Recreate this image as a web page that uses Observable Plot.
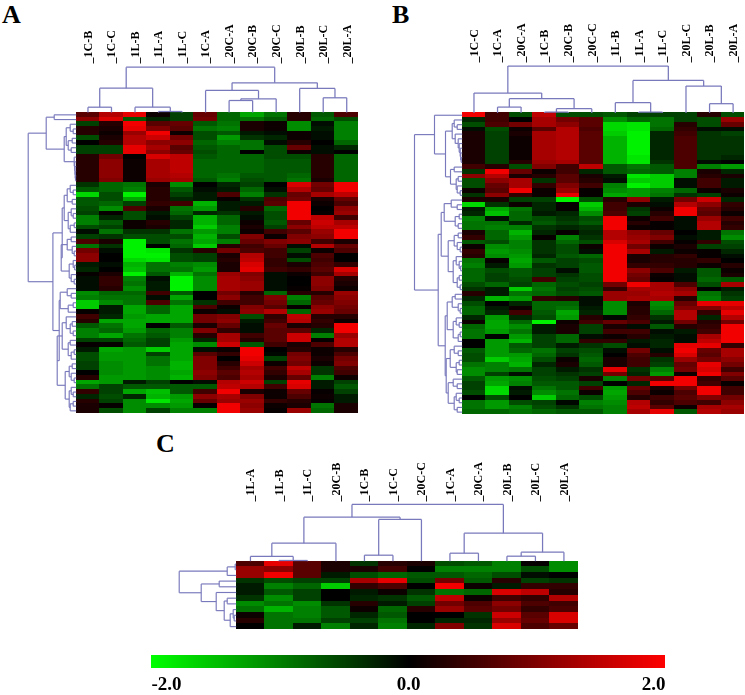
<!DOCTYPE html>
<html>
<head>
<meta charset="utf-8">
<script src="https://cdn.jsdelivr.net/npm/d3@7"></script>
<script src="https://cdn.jsdelivr.net/npm/@observablehq/plot@0.6"></script>
<style>
html,body{margin:0;padding:0;background:#fff}
#page{position:relative;width:745px;height:695px;overflow:hidden;font-family:"Liberation Serif",serif}
#page>svg,#page>div{position:absolute}
#page>svg{filter:blur(.45px)}
.letter{font-weight:bold;font-size:26px;line-height:30px;color:#000}
</style>
</head>
<body>
<div id="page"></div>
<script>
const columnsA = ["_1C-B","_1C-C","_1L-B","_1L-A","_1L-C","_1C-A","_20C-A","_20C-B","_20C-C","_20L-B","_20L-C","_20L-A"];
const columnsB = ["_1C-C","_1C-A","_20C-A","_1C-B","_20C-B","_20C-C","_1L-B","_1L-A","_1L-C","_20L-C","_20L-B","_20L-A"];
const columnsC = ["_1L-A","_1L-B","_1L-C","_20C-B","_1C-B","_1C-C","_20C-C","_1C-A","_20C-A","_20L-B","_20L-C","_20L-A"];

const heatA = [
[.7,1.4,1.8,.1,-.5,.8,-.8,-1.3,-.9,.3,-.7,.6],
[1.1,1.7,-.7,-.3,-.5,.9,-.8,-.9,-.7,.3,-.8,-.6],
[-.5,.3,1.9,.7,.8,-.7,-.9,.2,.1,-1.1,-.1,-1],
[.3,.2,1.8,1,.7,-.9,-1,.2,.1,-1.1,-.2,-1],
[.3,.1,1.2,1.9,.1,-.6,-.7,-.2,-.1,.1,-.1,-1],
[-.6,.2,1.4,1.6,.9,-.6,-1.2,-.4,-.3,.1,-.1,-1],
[0,.3,1.4,1.1,1.1,-.8,-1,-.9,-.1,.3,0,-.8],
[-.5,-.5,1.8,1.3,.7,-.7,-.8,-.9,-.6,.8,-.1,-.3],
[-.5,-.5,1.8,1.1,.8,-.6,-.8,0,-.6,.1,-.1,0],
[.3,.9,0,1.7,1.5,-.7,-.8,-.8,-.6,-.6,.3,-.8],
[.3,1.1,.1,1.3,1.5,-.8,-.8,-.8,-.7,-.7,.3,-.8],
[.3,1.1,.1,1.3,1.5,-.8,-.8,-.8,-.7,-.7,.3,-.8],
[.3,1.1,.1,1.3,1.5,-.8,-.8,-.8,-.7,-.7,.3,-.8],
[.3,1.1,.1,1.3,1.4,-.8,-.9,-.7,-.7,-.8,.3,-.8],
[.3,1,.1,1.2,1.3,-.7,-1,-.6,-.7,-.9,.2,-.8],
[-.4,-.8,-.9,.2,-1.1,0,-.3,-.5,0,1.7,.9,1.9],
[-.7,-.8,-1,.3,-.7,-.1,-.2,-.8,-.1,1.4,.8,1.9],
[-1.7,-.6,-1.9,.3,-.5,-.2,.6,-1,-.4,.8,1.3,1.5],
[-.7,-.6,-1.3,.3,-.3,-.2,.05,-.4,.6,.9,.2,.8],
[-.7,-.8,-.5,.4,.5,-1.4,-.2,-.2,.7,1.9,.1,.6],
[-.6,-1.1,.6,.2,-.9,-1.2,-.2,.3,-.8,1.9,0,1.1],
[-.5,.05,-.6,-.2,-.8,-.3,-.4,-.2,-.6,1.9,.05,1.2],
[-1,-.3,-.6,-.1,-.5,-1.4,-.8,-.1,-.6,1.9,1.5,.5],
[-1,-.7,.1,.3,-.3,-1.4,-.8,.1,-.7,.8,1.6,1.3],
[-.6,-.5,.1,.2,-.3,-1.6,-1,.2,-.5,1.1,1.5,1.5],
[-.1,-.9,-.4,-.4,-.9,-1.2,-1,.1,.5,.7,1.2,1.9],
[-.5,-.4,-.6,-.6,-.6,-1.4,-.6,1,.1,1,1.1,1.9],
[.6,.2,-1.9,-.6,-.9,-1.3,-1,.8,1,1.1,.5,.2],
[-.9,-.4,-1.9,0,-.8,-1.6,.3,.5,.8,-.1,1.4,.8],
[.9,-.1,-1.9,-1.8,-.4,.3,.9,.6,.5,-.5,.1,.6],
[1.1,0,-1.9,-1.9,-.6,-.5,.2,1.4,.5,-.1,.6,0],
[1.1,0,-1.7,-1.8,-.6,-.5,.3,1.5,.4,-.6,.5,0],
[-.2,-.1,-1.4,-.9,-1,-1.1,.2,1.7,.4,.2,.6,.4],
[-.3,0,-1.5,-.9,-.9,-1.2,.2,1.8,.5,.4,.7,1.7],
[.05,.2,-1.9,-.7,-1.4,-.9,1.2,1,-.1,.1,.5,1.3],
[-.1,.4,-1,-.1,-1.9,-1.1,1.3,1.1,-.1,0,1.1,.3],
[-.1,.4,-.9,-.2,-1.9,-1.1,1.3,1.2,-.1,0,1.1,.2],
[-.1,.3,-1.1,-.2,-1.9,-1.1,1.3,1.2,-.1,.05,1,.1],
[-1.1,-.8,-.8,.5,-.7,0,.9,.3,-.8,.3,.3,1.2],
[-1,-.9,-.9,-.1,-1.3,0,1.1,.5,1,-1,.7,1.1],
[-1.6,-1.1,-.9,.6,-.9,-.4,.5,.5,.9,-.8,.8,1],
[-1.6,-.2,-1.3,-.8,-1.3,.6,.1,1,.7,.05,1.1,.9],
[.05,-.2,-1.3,-.8,-1.3,.1,-.1,1.1,1.4,-.8,1.2,.8],
[.5,-.3,-1.2,-1.3,-1.3,.9,1,-.6,.4,1.5,.3,.3],
[.3,-1.3,-1.3,-1.3,-1.3,.9,1.1,-.2,.5,1.4,.4,.1],
[-.7,-.9,-1.3,0,-.7,.2,.8,-.1,.8,.2,.3,1.9],
[-1,-.8,-1.2,-.8,-1,1,.4,-.1,.7,.7,-.3,1.9],
[-1,-1.3,-.9,-.7,-1,.3,1.3,.5,.7,1.6,-1,1.2],
[-.5,-.5,-.8,-.5,-1.2,-.3,1.3,.3,.7,1.6,.05,1.4],
[.05,.05,-.7,-.5,-1.3,-1.1,1.6,-.7,.5,.2,.6,1.4],
[-.2,-1.3,-1.2,-1.6,-1.3,-.1,.1,1.9,0,.3,.1,.3],
[-.6,-1.2,-1.2,-.5,-1.3,.7,.4,1.9,-.05,.9,.1,.6],
[-.6,-1.2,-1.2,-.9,-1.3,1,0,1.8,-.5,1,.2,.9],
[-.5,-1.1,-1.2,-.9,-1.4,1,.3,1.6,.1,.9,.1,1],
[-.5,-1.1,-1.2,-1.1,-1.4,1,.5,1.3,.5,1.5,-.4,.6],
[0,-1.1,-1.2,-1.1,-1.3,1.1,.7,1.4,.4,1.3,-.4,.5],
[.3,-1.2,-1.2,-1.1,-1.4,1,.6,1.3,.2,.8,-1,.1],
[-1.3,-1.2,-.2,-.5,0,-.1,1.4,1.6,-.5,1.8,-.2,-.5],
[-.9,-.5,-.7,-.7,-.7,-.7,1.5,1.4,.5,1.7,-.2,-.7],
[.4,-.5,-1.3,-1.5,-.7,.5,1.9,.2,.1,.8,.05,-.5],
[-.3,-.6,-.3,-1.4,-1.2,1.1,1.3,1,.1,.6,.1,-.2],
[.3,-.5,-1.1,-1.8,-1.3,.8,1.2,1.2,.4,.3,.05,-.2],
[.2,.05,-1.1,-1.1,-1.2,.05,1.9,1.1,.1,.2,-.9,.2],
[.2,-.6,-1.1,-.5,-1,-1,1.9,1.2,.05,1.2,-.8,.2]
];

const heatB = [
[1.9,.5,-.6,1.5,-.6,-.6,-.7,-.5,-.5,-.5,.3,-.6],
[-.3,.5,0,1.3,.9,.7,-1.1,-.8,-.9,-.5,-.6,1.2],
[-.6,.6,.9,1.3,1.1,.7,-1.7,-1.8,-.9,.3,-.6,.8],
[-.1,-.6,.1,.7,1.4,.6,-1.7,-1.8,-.8,.4,-.1,-.1],
[.2,-.5,.2,1.3,1.4,.7,-1.6,-1.9,-.3,.5,-.4,-.5],
[.2,-.5,.1,1.3,1.4,.7,-1.4,-1.9,-.3,.6,-.4,-.4],
[.2,-.5,.1,1.3,1.4,.7,-1.4,-1.9,-.3,.6,-.4,-.4],
[.2,-.5,.1,1.3,1.4,.7,-1.4,-1.9,-.3,.6,-.4,-.4],
[.2,-.5,.1,1.3,1.4,.7,-1.4,-1.9,-.3,.6,-.4,-.4],
[.2,-.5,.1,1.3,1.4,.7,-1.4,-1.8,-.3,.6,-.4,-.3],
[.2,-.5,.3,1.2,1.3,.7,-1.4,-1.8,-.4,.6,-.1,0],
[.5,.3,-.6,1,.5,1.5,-.7,-.9,-.7,.6,-1,-1.2],
[-.4,1.9,.8,.1,.5,-.3,-.7,-.8,-.7,-1,.2,-.3],
[1.1,1.4,.2,.3,.7,.2,-.2,-1.8,-1.6,-1,.3,.2],
[-.6,1.1,1.3,-.4,.7,.3,-.1,-1.6,-1.6,-.1,.5,-.2],
[-.6,.8,1.3,.4,1,.5,-1,-1.9,-1.6,-.1,.5,-.2],
[.1,.7,1.9,.1,1.2,.05,-1.1,-1.2,-1,-.8,.1,.2],
[-.4,1.1,.4,.1,1.8,.05,-1.3,-1.2,-.9,-.4,-.5,.1],
[.2,.2,-.5,-.5,-1.9,-.6,.3,1.1,-.2,.9,1.6,-.3],
[-1.7,-.4,.1,-.3,.05,-1.6,.5,.2,-.1,1.4,1.1,.4],
[-.2,-1.3,-.9,-.3,.05,-1.4,.5,-.4,.1,1.9,.8,.3],
[-.3,-1.5,-.8,-.2,-.3,-1.1,.6,-.5,.3,1.9,.7,.1],
[-1,-.1,-.8,-.6,-.4,-.6,1.9,.1,.5,-.1,1.2,.5],
[-.9,-.9,-.3,-.7,-.5,-.7,1.9,.3,.05,-.1,1.4,.3],
[-.9,-1,-1,-.4,-.3,-.4,1.9,.1,.05,-.1,1.4,.4],
[.2,-.8,-1.4,-.3,.05,-.3,1.4,1.1,.8,0,-.2,-.9],
[.4,-.8,-1.2,.05,-1,-.4,1.4,1.2,1,-.1,-.2,-1.1],
[-.7,-.6,-1,-.4,-.8,-.6,1.7,1.3,.5,.05,.4,-.6],
[.1,-1.1,-1,-.4,-.6,.1,1.9,.9,.1,.2,-.5,-.5],
[.4,-1.2,-1.1,-.4,-.6,-.1,1.9,1.3,-.2,.1,.05,-.3],
[.3,-1.1,-1.2,-.3,-.7,-.8,1.9,.2,.3,.4,.05,-.1],
[-.9,.05,-1.3,-.7,-.5,-.6,1.9,.2,.3,.3,.4,0],
[-1,-.2,-1.2,-.4,-.5,-.7,1.9,.4,.4,.3,.1,.3],
[-.8,-.6,-.7,-.5,-.1,-.7,1.9,1.1,.6,-.2,-.7,.1],
[-.8,-.5,-.7,-.5,-.4,-.6,1.9,.9,.1,-.1,-.7,.2],
[-.8,-.5,-.6,.5,-.5,-.6,1.9,.8,.05,-.1,-.8,-.7],
[-.6,-.8,-.5,-.8,-.6,-.5,.9,1.9,1.3,.6,-.6,1.3],
[-.4,-.2,-1.6,-.9,-.5,-.6,.4,1.3,1.3,1.1,0,-.2],
[.3,-.2,-.9,-.8,-.6,-.7,1.2,1.2,1.4,1.3,-.9,-.4],
[-.3,-1.4,-1.2,.4,.3,-.1,1.2,1.3,1.3,.3,-1,-.5],
[-.6,0,-.3,-.8,-.8,-.1,-1.1,.2,-1.1,.8,1.8,1.8],
[-.8,-.2,.1,-.8,-.9,-.2,-1.1,.3,-1,1,1,1.5],
[-.8,-.3,.5,-.7,-1.3,-.3,-1.1,.3,-.8,1.4,.4,1.8],
[-.3,-1.2,-.3,-.6,-1.2,.3,-.05,.4,-.4,1.4,-.3,1.4],
[.1,-1.3,-.8,-1.9,.1,.5,.8,.6,-.2,.9,.3,.9],
[-.8,-1.3,-1.1,-.2,.2,-.5,.2,-.1,-.7,.3,.4,1.9],
[-.9,-1.2,-.9,-.2,.2,-.5,.5,.5,-.1,-.2,.5,1.9],
[-.9,0,-1.2,-.5,-.8,-.1,.1,.3,-.2,-.1,1.3,1.9],
[0,-1.2,-1.4,-.5,-.8,.4,.4,-.2,-.3,-.1,1.5,1.9],
[0,-1.2,-.7,-.5,-.2,-.4,-.6,-.1,-.3,1.8,1.8,.4],
[-.7,-1.2,-.8,-.9,-.5,-.6,-.1,.9,-.1,1.9,.8,1.3],
[-.6,-1.2,-1.2,-.8,-.4,-.7,0,.6,.3,1.7,.7,1.3],
[-.6,-1.6,-1.3,-.6,.1,-.8,.2,.5,-.4,1.2,.9,1.1],
[-.9,-1,-1.4,-.3,.2,-.7,.2,.5,-.5,.8,1.8,.9],
[-1.1,-1,-.9,-.5,-.2,-.4,1.8,-.4,-1,.9,1.7,.5],
[-1.1,-.5,-.1,-.5,-.4,-.5,.9,-.3,-1.2,.1,1.9,1],
[-.7,-1.2,-1.1,-.6,-.5,.2,-1,.9,.7,1.9,.4,.7],
[-.5,-1.3,-1,-.7,-.7,-.5,0,-.3,1.9,1.9,.5,.05],
[-.5,-1.7,-.1,-.9,-.7,.5,-1.2,.8,.2,.9,1.9,.5],
[-.6,-1.7,-.2,-1.1,-.9,.1,-1.3,.6,.1,.6,1.9,.5],
[0,-.6,0,-1.6,-.8,-.6,-1.2,.3,.5,.7,1,.9],
[-.9,-1.2,-.6,-.5,-.05,-1,-1.1,1.4,.4,.6,.5,1.1],
[-.9,-1.2,-1,-.6,-.4,-.9,-1,1.5,.7,.1,1.3,1.3],
[-.8,-.8,-.9,-.8,-.7,-.7,-1,1.3,1.8,-.7,1.4,1.2]
];

const heatC = [
[.6,1.8,.7,.2,-.4,.3,.2,-.6,-.7,-1,.05,-1.1],
[1.2,1.1,.7,.2,.2,.5,0,-1,-1,-1,-.6,-1.1],
[1.2,1.9,.7,-.2,-.6,-.8,-.7,-.7,-.8,-.6,-.1,0],
[-.4,-.6,-.5,-.5,1.3,1.8,-.6,.9,-.7,.3,-.5,-.4],
[-.2,-1,-.8,-1.6,.4,.6,0,1.9,.1,-.2,.4,.4],
[-.2,-.7,-.5,0,-.2,.1,-.4,-.9,-.8,1.7,1.5,.3],
[-.4,-1.1,-.5,0,-.3,-.4,-.7,1.5,.1,.5,.4,1.4],
[-1.1,-.9,-1.1,-.4,.3,-.2,-.5,.9,.6,1.1,.6,.5],
[-.9,-1.4,-1,-.7,.1,-.8,.3,1.2,.7,.9,.4,.6],
[.1,-.9,-1,-.7,-.3,-.7,0,0,-.4,1.6,.7,1.7],
[.3,-.9,-.9,-.5,-.5,-.9,0,-.3,-.3,1.2,.8,1.7],
[0,-.9,-.2,-1,-.3,-1,-.3,1,-.4,1.7,.6,.8]
];

// dendrograms: [height, left, right]; 0 is the next leaf in order
const colTreeA = [45.3,[24.3,[5.3,0,0],[5.3,0,[1,0,0]]],[29.7,[22,0,[13.7,[12,0,0],0]],[24,0,[14.7,0,0]]]];
const colTreeB = [46.8,[19.8,0,[14.2,[5.8,0,0],[4.2,[.8,0,0],0]]],[32.5,[10.2,0,[.8,0,0]],[26.8,0,[9.2,0,0]]]];
const colTreeC = [56.7,[44,[18,[4.7,0,[.7,0,0]],0],[41.7,[6,0,0],0]],[28,[8,0,0],[9,[5,0,0],0]]];
const rowTreeA = [48,
  [30,[22,0,0],[12,[10,[6,0,[3,0,0]],[8,[4,0,0],[5,0,0]]],[2,0,[1.5,0,[1.2,0,[1,0,[.7,0,0]]]]]]],
  [23.3,
    [14,[12,[9,[6,0,[3,0,0]],[4,0,0]],[8,[5,0,[3,0,0]],[6,[2,0,0],0]]],
        [15,[9,[5,0,0],[4,0,[2,0,0]]],[7,[3,0,[1.5,0,0]],[5,0,[2,0,0]]]]],
    [17,[16,[9,0,[5,0,0]],[8,[3,0,0],0]],
        [19,[14,[10,0,[6,[4,0,0],[3,0,0]]],[8,[6,0,0],[5,[2,0,0],0]]],[11,[7,[4,0,0],[5,0,[2,0,0]]],[7,[5,0,[3,0,0]],[6,[3,0,0],0]]]]]]];
const rowTreeB = [47.7,
  [27.7,0,[16.7,[10,[8,0,[5,0,0]],[7,0,[4,0,[3,0,[2,0,[1.5,0,[1,0,0]]]]]]],[11.7,[8,0,0],[6,[4,0,0],[5,0,[2,0,0]]]]]],
  [24,
    [21,[18,[11,0,[5,0,0]],[7,[3,0,0],[4,0,0]]],
        [14,[8,[4,0,0],[5,0,[2,0,0]]],[9,[6,0,[3,0,[1.5,0,0]]],[5,[3,0,0],[2,0,0]]]]],
    [17,[15,[10,[7,0,0],[4,0,[2,0,0]]],[9,[6,0,[3,0,0]],[4,[2,0,0],0]]],
        [16,[12,[8,0,[4,0,0]],[6,[3,0,0],[5,0,0]]],[14,[9,0,[5,0,0]],[8,[6,0,[3,0,0]],[5,0,0]]]]]]];
const rowTreeC = [57,[9,[1,0,0],0],[35,[17,0,0],[20,0,[12,[9,0,0],[6,[3,0,[2,0,0]],0]]]]];

const legendTicks = [-2, 0, 2];

const page = document.getElementById("page");
const serif = '"Liberation Serif","Times New Roman",serif';
const branchColor = "#7878bc";
const colorScale = {type:"linear", domain:[-2,0,2], range:["#00ff00","#000000","#ff0000"], interpolate:"rgb", clamp:true};

function flatten(tree){
  const segs = [];
  let leaf = 0;
  (function walk(n){
    if (n === 0) return {p: leaf++ + .5, h: 0};
    const a = walk(n[1]), b = walk(n[2]), h = n[0];
    segs.push({p1:a.p, h1:a.h, p2:a.p, h2:h});
    segs.push({p1:b.p, h1:b.h, p2:b.p, h2:h});
    segs.push({p1:a.p, h1:h, p2:b.p, h2:h});
    return {p:(a.p+b.p)/2, h};
  })(tree);
  return segs;
}

function panel({columns, heat, colTree, rowTree, svgLeft, svgTop, heatLeft, heatRight, heatTop, heatBottom, rootTop, fontSize}){
  const nc = columns.length, nr = heat.length;
  const colW = (heatRight-heatLeft)/nc, rowH = (heatBottom-heatTop)/nr;
  const cells = heat.flatMap((row,r)=>row.map((v,c)=>({r,c,v})));
  const plot = Plot.plot({
    width: heatRight-svgLeft, height: heatBottom-svgTop,
    marginLeft:0, marginRight:0, marginBottom:0, marginTop: rootTop-svgTop,
    style:{background:"transparent", overflow:"visible"},
    x:{domain:[-(heatLeft-svgLeft)/colW, nc], range:[0,heatRight-svgLeft]},
    y:{axis:null, domain:[-(heatTop-rootTop)/rowH, nr], range:[rootTop-svgTop,heatBottom-svgTop]},
    color: colorScale,
    marks:[
      Plot.rect(cells,{x1:"c",x2:d=>d.c+1,y1:"r",y2:d=>d.r+1,fill:"v",inset:0,shapeRendering:"crispEdges"}),
      Plot.link(flatten(colTree),{x1:"p1",x2:"p2",y1:d=>-d.h1/rowH,y2:d=>-d.h2/rowH,stroke:branchColor,strokeWidth:1.25,curve:"linear",markerEnd:"none"}),
      Plot.link(flatten(rowTree),{y1:"p1",y2:"p2",x1:d=>-d.h1/colW,x2:d=>-d.h2/colW,stroke:branchColor,strokeWidth:1.15,curve:"linear",markerEnd:"none"}),
      Plot.axisX(d3.range(nc).map(i=>i+.5),{anchor:"top",tickSize:0,tickPadding:3,tickRotate:-90,label:null,
        tickFormat:d=>columns[d-.5],fontSize,fontWeight:"bold",fontFamily:serif,fill:"#000"})
    ]
  });
  plot.style.left = svgLeft+"px";
  plot.style.top = svgTop+"px";
  page.appendChild(plot);
}

panel({columns:columnsA, heat:heatA, colTree:colTreeA, rowTree:rowTreeA, svgLeft:20, svgTop:0, heatLeft:75.7, heatRight:358, heatTop:112, heatBottom:412.7, rootTop:66, fontSize:12});
panel({columns:columnsB, heat:heatB, colTree:colTreeB, rowTree:rowTreeB, svgLeft:405, svgTop:0, heatLeft:461.7, heatRight:744.4, heatTop:112.4, heatBottom:414, rootTop:65, fontSize:12});
panel({columns:columnsC, heat:heatC, colTree:colTreeC, rowTree:rowTreeC, svgLeft:170, svgTop:425, heatLeft:235.7, heatRight:577.7, heatTop:560.7, heatBottom:629, rootTop:504, fontSize:12});

[["A",2,0],["B",392,0],["C",156,429]].forEach(([t,x,y])=>{
  const d = document.createElement("div");
  d.className = "letter"; d.textContent = t;
  d.style.left = x+"px"; d.style.top = y+"px";
  page.appendChild(d);
});

// colour key
const steps = d3.range(0,514).map(i=>-2+4*i/514);
const legend = Plot.plot({
  width:514, height:40, marginLeft:0, marginRight:0, marginTop:0, marginBottom:0,
  style:{background:"transparent", overflow:"visible"},
  x:{axis:null, domain:[-2,2]},
  y:{axis:null, domain:[0,40], range:[0,40]},
  color: colorScale,
  marks:[
    Plot.rect(steps,{x1:d=>d,x2:d=>d+4/514+.002,y1:0,y2:13,fill:d=>d,inset:0,shapeRendering:"crispEdges"}),
    Plot.text([legendTicks[0]],{x:d=>d,y:28.5,text:d=>d3.format(".1f")(d).replace("−","-"),textAnchor:"start",fontSize:19,fontWeight:"bold",fontFamily:serif,fill:"#000"}),
    Plot.text([legendTicks[1]],{x:d=>d,y:28.5,text:d=>d3.format(".1f")(d),textAnchor:"middle",fontSize:19,fontWeight:"bold",fontFamily:serif,fill:"#000"}),
    Plot.text([legendTicks[2]],{x:d=>d,y:28.5,text:d=>d3.format(".1f")(d),textAnchor:"end",fontSize:19,fontWeight:"bold",fontFamily:serif,fill:"#000"})
  ]
});
legend.style.left = "151px";
legend.style.top = "655px";
page.appendChild(legend);
</script>
</body>
</html>
